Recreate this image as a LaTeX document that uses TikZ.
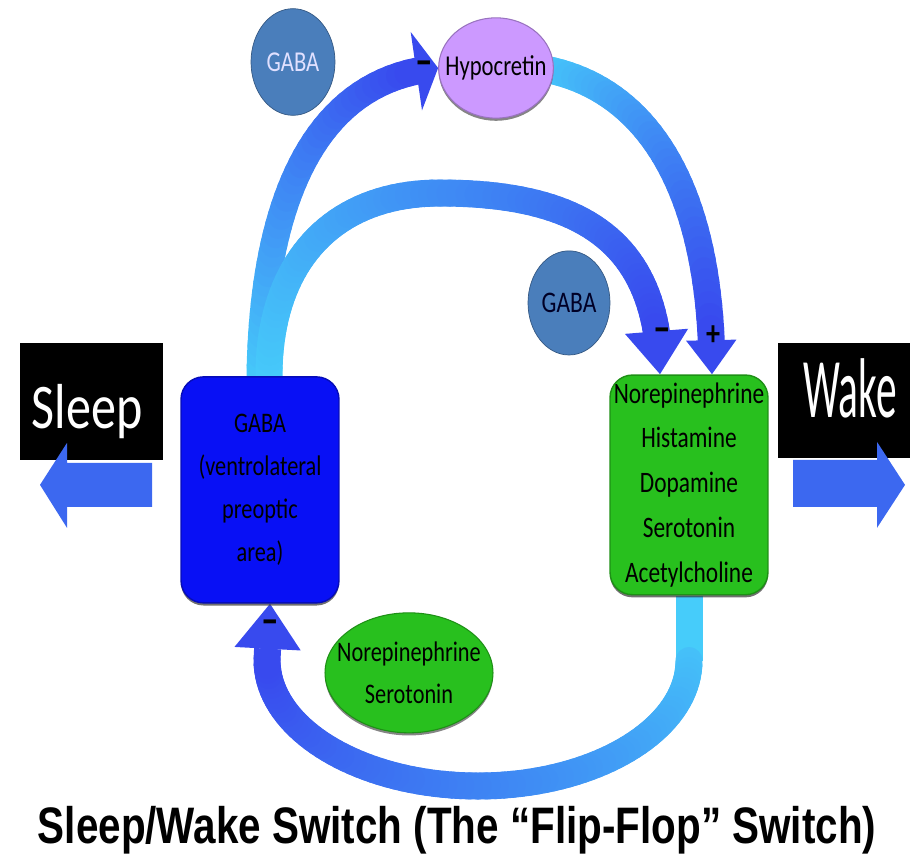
\documentclass[tikz,border=0pt]{standalone}
\usepackage{fontspec}
\setmainfont{Carlito}
\newfontfamily\titlefont{Liberation Sans}
\usetikzlibrary{shapes.geometric,arrows.meta,calc,shadows,backgrounds}

\definecolor{vlpoblue}{RGB}{8,16,245}
\definecolor{wakegreen}{RGB}{40,192,30}
\definecolor{gabablue}{RGB}{74,126,187}
\definecolor{hypolilac}{RGB}{204,153,255}
\definecolor{bandlight}{RGB}{70,204,250}
\definecolor{banddark}{RGB}{56,74,238}
\definecolor{blockblue}{RGB}{60,104,240}

% shaded band along a curve: points #1-#4, colour mix from #5 to #6, stop at time #7
\newcommand\gradcurve[7]{%
  \coordinate (gprev) at (#1);
  \foreach \i in {1,...,40} {
    \pgfmathsetmacro\tpos{#7*\i/40}
    \pgfmathsetmacro\mixval{#5+(#6-#5)*\i/40}
    \coordinate (gcur) at ($($($(#1)!\tpos!(#2)$)!\tpos!($(#2)!\tpos!(#3)$)$)!\tpos!($($(#2)!\tpos!(#3)$)!\tpos!($(#3)!\tpos!(#4)$)$)$);
    \draw[line width=0.54cm, line cap=round, banddark!\mixval!bandlight] (gprev) -- (gcur);
    \coordinate (gprev) at (gcur);
  }}

\begin{document}
\begin{tikzpicture}[x=0.02cm, y=-0.015748cm, yscale=1.27,
    every node/.append style={transform shape},
    box/.style={rectangle, rounded corners=0.45cm, fill=#1, draw=#1!75!black, line width=0.8pt,
        inner xsep=1pt, inner ysep=0pt, minimum width=3.16cm, align=center,
        drop shadow={shadow xshift=0pt, shadow yshift=-1.5pt, fill=black!80, opacity=0.7}},
    blob/.style={ellipse, fill=#1, draw=#1!75!black, line width=0.6pt, inner ysep=0pt, align=center,
        drop shadow={shadow xshift=0pt, shadow yshift=-1.5pt, fill=black!80, opacity=0.6}},
    sign/.style={font=\fontsize{20}{20}\selectfont\bfseries, inner sep=0pt},
    head/.style={banddark, line width=1pt},
]
\useasboundingbox (0,0) rectangle (910,857);

% sleep and wake
\node[fill=black, minimum width=2.86cm, minimum height=1.84cm] (sleepbox) at (91.5,401.5) {};
\node[text=white, inner sep=0pt, font=\fontsize{28.5}{28.5}\selectfont] (sleep) at (87,412) {Sleep};
\fill[blockblue] (152,463) -- (67,463) -- (67,443) -- (40,485) -- (67,528) -- (67,507) -- (152,507) -- cycle;

\node[fill=black, minimum width=2.64cm, minimum height=1.81cm] (wakebox) at (844,400.5) {};
\node[text=white, inner sep=0pt] (wake) at (850,388) {\scalebox{0.62}[1]{\fontsize{38}{38}\selectfont Wake}};
\fill[blockblue] (793,460) -- (877,460) -- (877,442) -- (905,485) -- (877,528) -- (877,507) -- (793,507) -- cycle;

% the two groups of neurons
\node[box=vlpoblue, minimum height=3.56cm, font=\fontsize{12.7}{19.2}\selectfont] (vlpo) at (260,490)
    {GABA\\(ventrolateral\\preoptic\\area)};
\node[box=wakegreen, minimum height=3.46cm, font=\fontsize{13.3}{20.1}\selectfont] (nt) at (689,485)
    {Norepinephrine\\Histamine\\Dopamine\\Serotonin\\Acetylcholine};

\node[blob=hypolilac, inner xsep=-0.2cm, minimum width=2.28cm, minimum height=1.58cm, font=\fontsize{12.9}{12.9}\selectfont] (hypo) at (496,68) {Hypocretin};
\node[blob=wakegreen, inner xsep=-0.26cm, minimum width=3.36cm, minimum height=1.89cm, font=\fontsize{12.7}{18.7}\selectfont] (neser) at (409,673)
    {Norepinephrine\\Serotonin};

\node[circle, fill=gabablue, draw=gabablue!70!black, minimum size=1.68cm, inner sep=0pt,
    text=white!88!blue, font=\fontsize{12.9}{12.9}\selectfont] (gabatop) at (293,62) {GABA};
\node[circle, fill=gabablue, draw=gabablue!70!black, minimum size=1.64cm, inner sep=0pt,
    text=black!85!blue, font=\fontsize{13.4}{13.4}\selectfont] (gabamid) at (569,303) {GABA};

% thick arrows, drawn without the vertical stretch
\begin{scope}[on background layer, yscale=0.7874016, y=-0.02cm]
\coordinate (a1s) at (vlpo.north);
\coordinate (a1c) at (262,230);
\coordinate (a1d) at (300,80);
\coordinate (a1e) at (hypo.west);
\gradcurve{a1s}{a1c}{a1d}{a1e}{0}{100}{0.947}
\draw[head, -{Triangle[width=1.58cm,length=0.44cm]}] (gprev) -- (a1e);

\coordinate (a2s) at ([xshift=0.18cm]vlpo.north);
\coordinate (a2c) at (269,265);
\coordinate (a2d) at (330,193);
\coordinate (a2m) at (440,193);
\coordinate (a2f) at (592,193);
\coordinate (a2g) at (658,250);
\coordinate (a2e) at ([xshift=-0.58cm]nt.north);
\gradcurve{a2s}{a2c}{a2d}{a2m}{0}{47}{1}
\gradcurve{a2m}{a2f}{a2g}{a2e}{47}{100}{0.885}
\draw[head, -{Triangle[width=1.26cm,length=0.86cm]}] (gprev) -- (a2e);

\coordinate (a3s) at ([xshift=-0.3cm]hypo.east);
\coordinate (a3c) at (645,85);
\coordinate (a3d) at (712,185);
\coordinate (a3e) at ([xshift=0.46cm]nt.north);
\gradcurve{a3s}{a3c}{a3d}{a3e}{0}{100}{0.94}
\draw[head, -{Triangle[width=1cm,length=0.68cm]}] (gprev) -- (a3e);

\coordinate (a4s) at (nt.south);
\coordinate (a4a) at ($(nt.south)+(0,65)$);
\coordinate (a4p) at (689,729.6);
\coordinate (a4q) at (594.5,786);
\coordinate (a4b) at (478,786);
\coordinate (a4r) at (361.5,786);
\coordinate (a4t) at (267,729.6);
\coordinate (a4c) at (267,660);
\coordinate (a4e) at ([xshift=0.2cm]vlpo.south);
\draw[line width=0.54cm, bandlight] (a4s) -- (a4a);
\gradcurve{a4a}{a4p}{a4q}{a4b}{8}{54}{1}
\gradcurve{a4b}{a4r}{a4t}{a4c}{54}{100}{1}
\draw[line width=0.54cm, banddark, shorten >=0.9cm] (a4c) -- (a4e);
\draw[head, -{Triangle[width=1.32cm,length=0.9cm]}] (a4c) -- (a4e);
\end{scope}

\node[sign] (m1) at (424,68) {–};
\node[sign] (m2) at (662,335) {–};
\node[sign, font=\fontsize{16}{16}\selectfont\bfseries] (p3) at (713,336) {+};
\node[sign] (m4) at (270,627) {–};

\node[font=\fontsize{23}{23}\selectfont\titlefont\bfseries] (title) at (457,830)
    {Sleep/Wake Switch (The “Flip-Flop” Switch)};
\end{tikzpicture}
\end{document}
